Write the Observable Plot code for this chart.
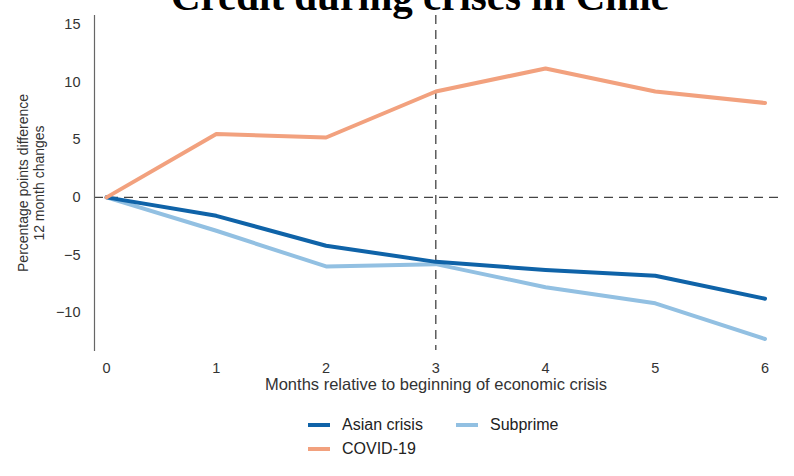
<!DOCTYPE html>
<html>
<head>
<meta charset="utf-8">
<script src="https://cdn.jsdelivr.net/npm/d3@7"></script>
<script src="https://cdn.jsdelivr.net/npm/@observablehq/plot@0.6"></script>
<style>
  html, body { margin: 0; padding: 0; background: #fff; overflow: hidden; }
  #wrap { position: relative; width: 794px; height: 476px; overflow: hidden; font-family: "Liberation Sans", Arial, sans-serif; }
  #title { position: absolute; left: 0; width: 840px; top: -27px; line-height: 47px; text-align: center; font-family: "Liberation Serif", serif; font-weight: bold; font-size: 41px; color: #000; white-space: nowrap; }
  #chart { position: absolute; left: 0; top: 0; }
  .leg { position: absolute; font-size: 16px; color: #222; display: flex; align-items: center; }
  .sw { display: inline-block; width: 22px; height: 4px; margin-right: 12px; }
</style>
</head>
<body>
<div id="wrap">
  <div id="chart"></div>
  <div id="title"></div>
  <div id="legend"></div>
</div>
<script>
const titleText = "Credit during crises in Chile";
const months = [0, 1, 2, 3, 4, 5, 6];
const seriesNames = ["Asian crisis", "Subprime", "COVID-19"];
const asian = [0, -1.6, -4.2, -5.6, -6.3, -6.8, -8.8];
const subprime = [0, -2.9, -6.0, -5.8, -7.8, -9.2, -12.3];
const covid = [0, 5.5, 5.2, 9.2, 11.2, 9.2, 8.2];
const colors = ["#0f63a8", "#92c0e2", "#f2a17e"];
const yTicks = [-10, -5, 0, 5, 10, 15];
const crisisMonth = [3];
const zeroLine = [0];
const yLabel = "Percentage points difference\n12 month changes";
const xLabel = "Months relative to beginning of economic crisis";

document.getElementById("title").textContent = titleText;

const valuesBySeries = [asian, subprime, covid];
const rows = [];
const drawOrder = [1, 0, 2];
drawOrder.forEach(i => {
  months.forEach((m, j) => rows.push({ month: m, value: valuesBySeries[i][j], series: seriesNames[i] }));
});

const chart = Plot.plot({
  width: 794,
  height: 400,
  marginLeft: 94,
  marginRight: 13,
  marginTop: 15,
  marginBottom: 50,
  style: { fontFamily: "Liberation Sans, Arial, sans-serif", fontSize: "14.5px", color: "#333", background: "#fff" },
  x: { domain: [-0.11, 6.15], ticks: months, tickFormat: d => String(d), tickSize: 0, tickPadding: 12, label: null },
  y: { domain: [-13.3, 15.8], ticks: yTicks, tickSize: 0, tickPadding: 14, label: null },
  color: { domain: seriesNames, range: colors },
  marks: [
    Plot.ruleY(zeroLine, { stroke: "#444", strokeWidth: 1.3, strokeDasharray: "9,6" }),
    Plot.ruleX(crisisMonth, { stroke: "#444", strokeWidth: 1.3, strokeDasharray: "9,6" }),
    Plot.frame({ anchor: "left", stroke: "#666", strokeWidth: 1.2 }),
    Plot.line(rows, { x: "month", y: "value", z: "series", stroke: "series", strokeWidth: 4, strokeLinejoin: "round", strokeLinecap: "round" }),
    Plot.text([yLabel], { frameAnchor: "left", dx: -64, rotate: -90, fontSize: 14, lineHeight: 1.15, fill: "#333", textAnchor: "middle", lineAnchor: "middle" }),
    Plot.text([xLabel], { frameAnchor: "bottom", dy: 34, dx: -2, fontSize: 16.5, fill: "#333", textAnchor: "middle", lineAnchor: "middle" })
  ]
});
document.getElementById("chart").appendChild(chart);

const legendPos = [
  { left: 308, top: 416 },
  { left: 456, top: 416 },
  { left: 308, top: 440 }
];
const leg = document.getElementById("legend");
seriesNames.forEach((name, i) => {
  const d = document.createElement("div");
  d.className = "leg";
  d.style.left = legendPos[i].left + "px";
  d.style.top = legendPos[i].top + "px";
  const sw = document.createElement("span");
  sw.className = "sw";
  sw.style.background = colors[i];
  const t = document.createElement("span");
  t.textContent = name;
  d.appendChild(sw);
  d.appendChild(t);
  leg.appendChild(d);
});
</script>
</body>
</html>
